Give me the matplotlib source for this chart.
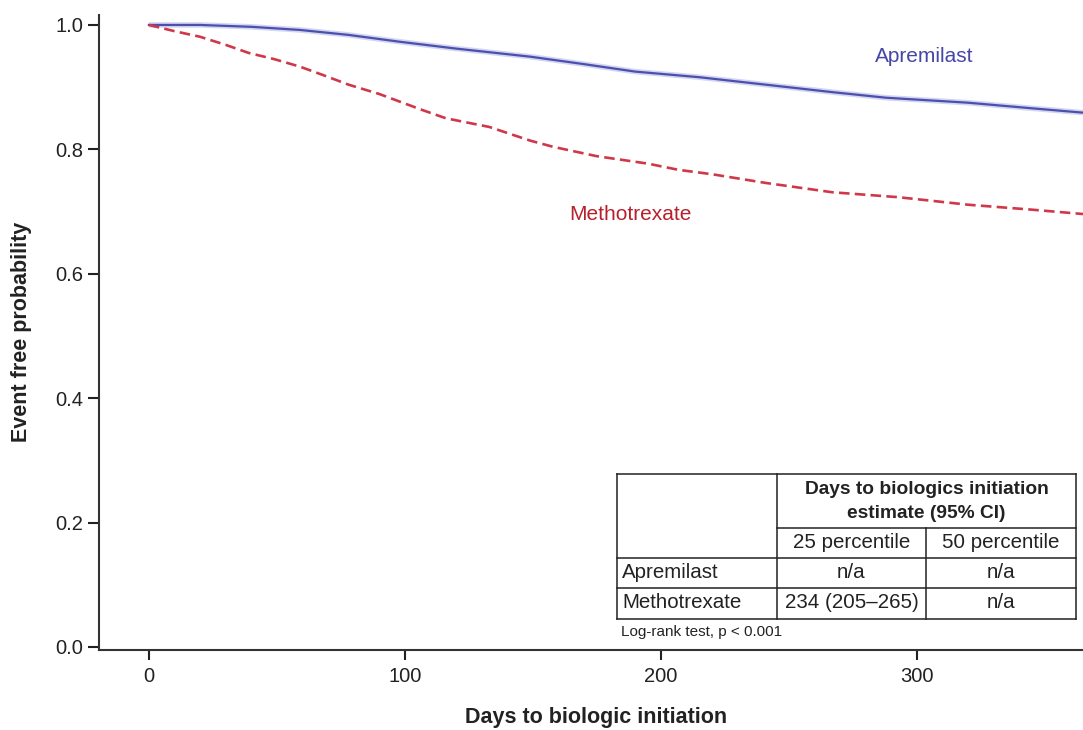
import matplotlib
matplotlib.use("Agg")
import matplotlib.pyplot as plt
from matplotlib.lines import Line2D

plt.rcParams['font.family'] = ['Liberation Sans', 'DejaVu Sans']

# ---- data ----
days_apr = [0, 20, 40, 59, 78, 98, 120, 149, 170, 190, 215, 241, 267, 288, 320, 345, 365]
surv_apr = [1.0, 1.0, 0.997, 0.992, 0.984, 0.973, 0.962, 0.949, 0.937, 0.925, 0.916,
            0.904, 0.892, 0.883, 0.875, 0.866, 0.859]

days_mtx = [0, 10, 20, 30, 39, 49, 59, 69, 78, 90, 107, 116, 133, 149, 158, 175, 195,
            207, 220, 241, 267, 293, 320, 345, 365]
surv_mtx = [1.0, 0.99, 0.981, 0.968, 0.955, 0.945, 0.933, 0.918, 0.904, 0.889, 0.863,
            0.850, 0.836, 0.814, 0.804, 0.789, 0.777, 0.767, 0.760, 0.746, 0.731, 0.723,
            0.711, 0.703, 0.696]

series_names = ["Apremilast", "Methotrexate"]
x_ticks = [0, 100, 200, 300]
y_ticks = [0.0, 0.2, 0.4, 0.6, 0.8, 1.0]

table_header1 = ["Days to biologics initiation", "estimate (95% CI)"]
table_header2 = ["25 percentile", "50 percentile"]
table_rows = [["Apremilast", "n/a", "n/a"],
              ["Methotrexate", "234 (205\u2013265)", "n/a"]]
footnote = "Log-rank test, p < 0.001"

blue = '#4b4fae'
red = '#d0384a'

W, H = 1083, 730
fig = plt.figure(figsize=(W / 100, H / 100), dpi=100)

def fx(x):
    return x / W

def fy(y):
    return 1 - y / H

ax = fig.add_axes([fx(99), fy(650), fx(1083) - fx(99), fy(15) - fy(650)])
ax.set_xlim(-19.5, 365)
ax.set_ylim(-0.005, 1.016)

ax.plot(days_apr, surv_apr, color='#b8bce6', lw=4.0, alpha=0.6, solid_capstyle='butt')
ax.plot(days_apr, surv_apr, color=blue, lw=1.6)
ax.plot(days_mtx, surv_mtx, color=red, lw=1.9, dashes=(4, 2))

ax.text(303, 0.95, series_names[0], color='#4646a8', fontsize=15,
        ha='center', va='center')
ax.text(188, 0.695, series_names[1], color='#b8202c', fontsize=15,
        ha='center', va='center')

for s in ['top', 'right']:
    ax.spines[s].set_visible(False)
for s in ['left', 'bottom']:
    ax.spines[s].set_color('#333333')
    ax.spines[s].set_linewidth(1.5)

ax.set_xticks(x_ticks)
ax.set_yticks(y_ticks)
ax.set_yticklabels([f"{v:.1f}" for v in y_ticks])
ax.tick_params(axis='both', colors='#222222', labelsize=14.5, width=1.5)
ax.tick_params(axis='y', length=8, pad=3.5)
ax.tick_params(axis='x', length=7.5, pad=5)

fig.text(fx(596), fy(718), "Days to biologic initiation", fontsize=15.5,
         fontweight='bold', ha='center', va='center', color='#222222')
fig.text(fx(22), fy(332), "Event free probability", fontsize=15.5,
         fontweight='bold', ha='center', va='center', rotation=90, color='#222222')

# ---- table ----
L, C1, C2, R = 617, 777, 926, 1076
Y0, Y1, Y2, Y3, Y4 = 474, 528, 558, 588, 619
lc = '#222222'

def hline(y, x0, x1):
    fig.add_artist(Line2D([fx(x0), fx(x1)], [fy(y), fy(y)], color=lc, lw=1.1))

def vline(x, y0, y1):
    fig.add_artist(Line2D([fx(x), fx(x)], [fy(y0), fy(y1)], color=lc, lw=1.1))

hline(Y0, L, R)
hline(Y1, C1, R)
hline(Y2, L, R)
hline(Y3, L, R)
hline(Y4, L, R)
vline(L, Y0, Y4)
vline(C1, Y0, Y4)
vline(C2, Y1, Y4)
vline(R, Y0, Y4)

fsb = 13.8
fs = 14.8
fig.text(fx((C1 + R) / 2), fy(489), table_header1[0], fontsize=fsb, fontweight='bold',
         ha='center', va='center', color='#222222')
fig.text(fx((C1 + R) / 2), fy(514), table_header1[1], fontsize=fsb, fontweight='bold',
         ha='center', va='center', color='#222222')
fig.text(fx((C1 + C2) / 2), fy(543), table_header2[0], fontsize=fs,
         ha='center', va='center', color='#222222')
fig.text(fx((C2 + R) / 2), fy(543), table_header2[1], fontsize=fs,
         ha='center', va='center', color='#222222')
for row, yc in zip(table_rows, [573, 603]):
    fig.text(fx(622), fy(yc), row[0], fontsize=fs, ha='left', va='center', color='#222222')
    fig.text(fx((C1 + C2) / 2), fy(yc), row[1], fontsize=fs, ha='center', va='center',
             color='#222222')
    fig.text(fx((C2 + R) / 2), fy(yc), row[2], fontsize=fs, ha='center', va='center',
             color='#222222')
fig.text(fx(621), fy(632), footnote, fontsize=11, ha='left', va='center', color='#222222')

fig.savefig("out.png", dpi=100)
